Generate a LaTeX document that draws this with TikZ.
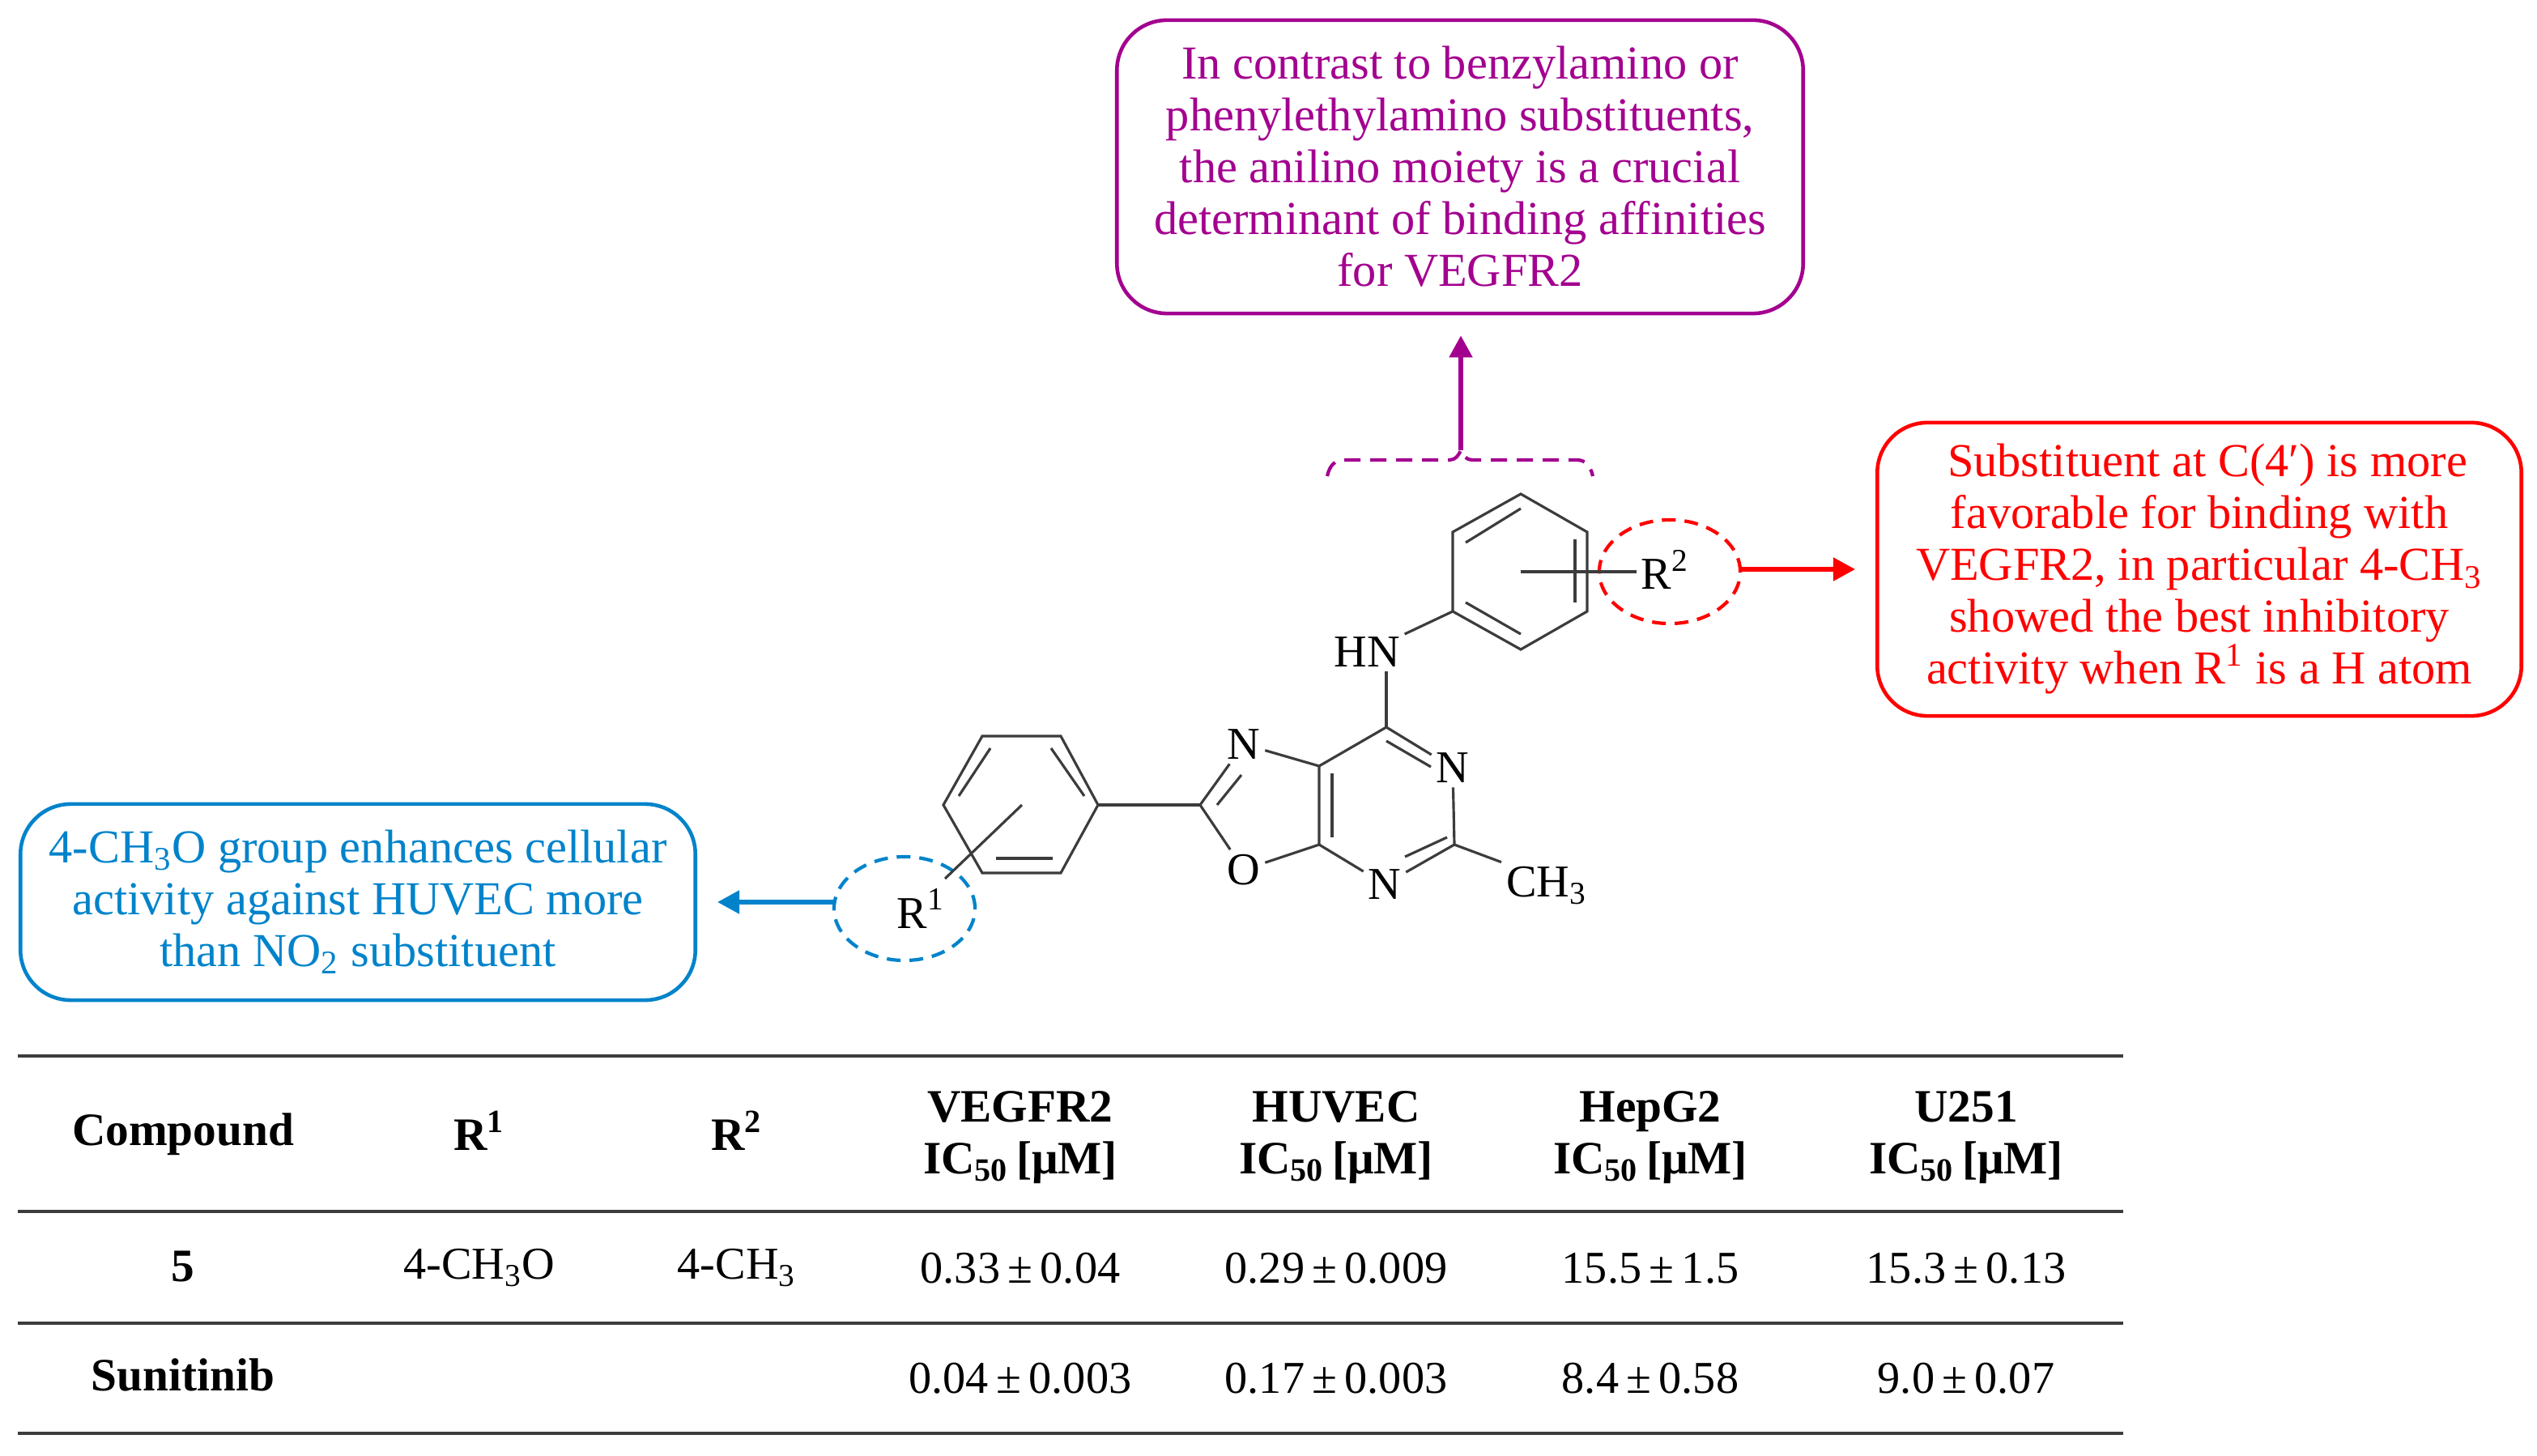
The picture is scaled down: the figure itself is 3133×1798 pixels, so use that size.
\documentclass[tikz,border=0pt]{standalone}
\usepackage{fontspec}
\setmainfont{Liberation Serif}
\usetikzlibrary{arrows.meta,shapes.geometric}
\definecolor{notepurple}{HTML}{A3008F}
\definecolor{notered}{HTML}{FF0000}
\definecolor{noteblue}{HTML}{0083CB}
\definecolor{bondgray}{HTML}{3C3C3C}
\newcommand{\sub}[1]{\textsubscript{#1}}
\newcommand{\ICunit}{IC\sub{50}\,[μM]}
\newcommand{\pmval}[2]{#1\,±\,#2}
\tikzset{
    bodyfont/.style={font=\fontsize{16}{18.2}\selectfont},
    notebox/.style={draw=#1, text=#1, line width=1.3pt, rounded corners=0.62cm, align=center, inner sep=0pt, font=\fontsize{16.6}{18.2}\selectfont},
    atom/.style={inner sep=1.5pt, bodyfont},
    bond/.style={draw=bondgray, line width=0.9pt},
    ringmark/.style={draw=#1, ellipse, dashed, dash pattern=on 0.17cm off 0.11cm, line width=1.2pt, minimum width=1.74cm, minimum height=1.28cm, inner sep=0pt},
    notearrow/.style={draw=#1, line width=1.5pt, -{Triangle[length=0.27cm,width=0.28cm]}, shorten >=0.25cm},
    tablerule/.style={draw=bondgray, line width=0.9pt},
    tablecell/.style={align=center, inner sep=0pt, bodyfont},
    tablehead/.style={tablecell, font=\fontsize{16.3}{18.2}\selectfont\bfseries}
}
\begin{document}
\begin{tikzpicture}[x=0.01cm,y=-0.01cm]
        \useasboundingbox (0,0) rectangle (3133,1798);

        % Draw the note boxes
        \node[notebox=notepurple, minimum width=8.47cm, minimum height=3.62cm] (purplebox) at (1803,206) {In contrast to benzylamino or\\phenylethylamino substituents,\\the anilino moiety is a crucial\\determinant of binding affinities\\for VEGFR2};
        \node[notebox=notered, minimum width=7.95cm, minimum height=3.62cm] (redbox) at (2716,703) {\hspace*{0.2cm}Substituent at C(4′) is more\\favorable for binding with\\VEGFR2, in particular 4-CH\sub{3}\\showed the best inhibitory\\activity when R\textsuperscript{1} is a H atom};
        \node[notebox=noteblue, minimum width=8.33cm, minimum height=2.42cm] (bluebox) at (442,1114) {4-CH\sub{3}O group enhances cellular\\activity against HUVEC more\\than NO\sub{2} substituent};

        % Atoms of the anilino ring
        \coordinate (a1) at (1878,610);
        \coordinate (a2) at (1960,657);
        \coordinate (a3) at (1960,755);
        \coordinate (a4) at (1878,802);
        \coordinate (a5) at (1794,755);
        \coordinate (a6) at (1794,657);
        \draw[bond] (a1) -- (a2) -- (a3) -- (a4) -- (a5) -- (a6) -- cycle;
        \foreach \xa/\ya/\xb/\yb in {1810/670/1878/628, 1945/666/1945/744, 1810/744/1878/783} {
            \draw[bond] (\xa,\ya) -- (\xb,\yb);
        }

        % Atoms of the benzene ring
        \coordinate (b1) at (1356,994);
        \coordinate (b2) at (1310,909);
        \coordinate (b3) at (1213,909);
        \coordinate (b4) at (1165,994);
        \coordinate (b5) at (1213,1078);
        \coordinate (b6) at (1310,1078);
        \draw[bond] (b1) -- (b2) -- (b3) -- (b4) -- (b5) -- (b6) -- cycle;
        \foreach \xa/\ya/\xb/\yb in {1298/924/1339/983, 1223/924/1184/983, 1230/1060/1300/1060} {
            \draw[bond] (\xa,\ya) -- (\xb,\yb);
        }

        % Atoms of the fused rings
        \node[atom] (nh) at (1688,805) {HN};
        \node[atom] (n1) at (1794,948) {N};
        \node[atom] (n2) at (1710,1092) {N};
        \node[atom] (n3) at (1536,919) {N};
        \node[atom] (o1) at (1536,1074) {O};
        \node[atom, anchor=west] (me) at (1854,1094) {CH\sub{3}};
        \coordinate (c1) at (1712,898);
        \coordinate (c2) at (1796,1043);
        \coordinate (c3) at (1629,946);
        \coordinate (c4) at (1629,1043);
        \coordinate (c5) at (1482,994);

        % Draw the bonds
        \draw[bond] (a5) -- (nh);
        \draw[bond] (c1 |- nh.south) -- (c1);
        \draw[bond] (c1) -- (n1);
        \draw[bond] (c1) -- (c3) -- (c4);
        \draw[bond] (n1) -- (c2) -- (n2) -- (c4);
        \draw[bond] (c2) -- (me.north west);
        \draw[bond] (c3) -- (n3) -- (c5) -- (o1) -- (c4);
        \draw[bond] (c5) -- (b1);
        \foreach \xa/\ya/\xb/\yb in {1712/915/1767/947, 1787/1034/1735/1058, 1645/955/1645/1034, 1503/994/1533/957} {
            \draw[bond] (\xa,\ya) -- (\xb,\yb);
        }

        % Draw the substituents and their dashed rings
        \coordinate (a0) at (1878,706);
        \node[atom] (rtwo) at (2056,703) {R\textsuperscript{2}};
        \node[ringmark=notered] (rtworing) at (2062,706) {};
        \draw[bond] (a0) -- (rtwo.west |- a0);
        \coordinate (b0) at (1262,994);
        \coordinate (b7) at (1167,1085);
        \node[atom] (rone) at (1137,1122) {R\textsuperscript{1}};
        \node[ringmark=noteblue] (ronering) at (1117,1122) {};
        \draw[bond] (b0) -- (b7);

        % Draw the dashed brace
        \draw[notepurple, line width=1.2pt, dash pattern=on 0.2cm off 0.12cm] (1639,588) .. controls (1642,575) and (1648,568) .. (1660,568) -- (1790,568) .. controls (1797,568) and (1801,563) .. (1804,556) .. controls (1807,563) and (1811,568) .. (1818,568) -- (1947,568) .. controls (1958,568) and (1964,575) .. (1967,588);
        \coordinate (bracetip) at (1804,556);

        % Draw the arrows to the notes
        \coordinate (redfoot) at (2150,703);
        \coordinate (bluefoot) at (1032,1114);
        \draw[notearrow=notepurple] (bracetip) -- (bracetip |- purplebox.south);
        \draw[notearrow=notered] (redfoot) -- (redbox);
        \draw[notearrow=noteblue] (bluefoot) -- (bluebox);

        % Draw the table
        \foreach \y in {1304,1496,1634,1770} {
            \draw[tablerule] (22,\y) -- (2622,\y);
        }
        \node[tablehead] (hcomp) at (226,1401) {Compound};
        \foreach \name/\x/\txt in {hrone/592/R\textsuperscript{1}, hrtwo/910/R\textsuperscript{2}} {
            \node[tablehead] (\name) at (\x,1396) {\txt};
        }
        \foreach \name/\x/\txt in {hvegfr/1260/VEGFR2, hhuvec/1650/HUVEC, hhep/2038/HepG2, hunit/2428/U251} {
            \node[tablehead] (\name) at (\x,1405) {\txt\\\ICunit};
        }
        \node[tablehead] (cfive) at (226,1564) {5};
        \node[tablehead] (csun) at (226,1698) {Sunitinib};
        \foreach \name/\x/\txt in {rowa/592/4-CH\sub{3}O, rowb/910/4-CH\sub{3}, rowc/1260/\pmval{0.33}{0.04}, rowd/1650/\pmval{0.29}{0.009}, rowe/2038/\pmval{15.5}{1.5}, rowf/2428/\pmval{15.3}{0.13}} {
            \node[tablecell] (\name) at (\x,1566) {\txt};
        }
        \foreach \name/\x/\txt in {rowg/1260/\pmval{0.04}{0.003}, rowh/1650/\pmval{0.17}{0.003}, rowi/2038/\pmval{8.4}{0.58}, rowj/2428/\pmval{9.0}{0.07}} {
            \node[tablecell] (\name) at (\x,1702) {\txt};
        }
    \end{tikzpicture}
\end{document}
